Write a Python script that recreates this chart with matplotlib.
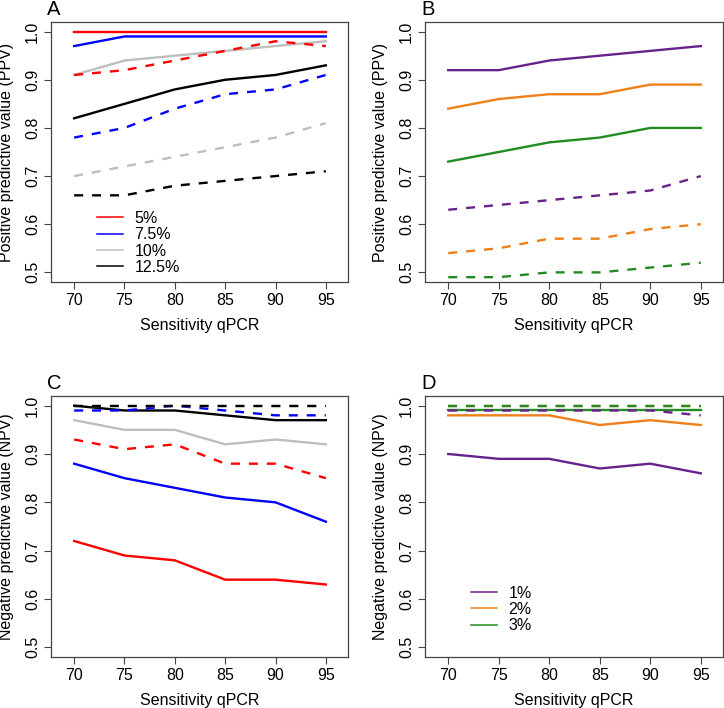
import matplotlib
matplotlib.use('Agg')
import matplotlib.pyplot as plt
from matplotlib.lines import Line2D

plt.rcParams['font.family'] = ['Liberation Sans', 'DejaVu Sans']

sens = [70, 75, 80, 85, 90, 95]

# panel A: PPV, prevalence 5 / 7.5 / 10 / 12.5 %
ppv_a_solid = {
    '5%':   [1.00, 1.00, 1.00, 1.00, 1.00, 1.00],
    '7.5%': [0.97, 0.99, 0.99, 0.99, 0.99, 0.99],
    '10%':  [0.91, 0.94, 0.95, 0.96, 0.97, 0.98],
    '12.5%': [0.82, 0.85, 0.88, 0.90, 0.91, 0.93],
}
ppv_a_dash = {
    '5%':   [0.91, 0.92, 0.94, 0.96, 0.98, 0.97],
    '7.5%': [0.78, 0.80, 0.84, 0.87, 0.88, 0.91],
    '10%':  [0.70, 0.72, 0.74, 0.76, 0.78, 0.81],
    '12.5%': [0.66, 0.66, 0.68, 0.69, 0.70, 0.71],
}
# panel C: NPV, same prevalences
npv_c_solid = {
    '5%':   [0.72, 0.69, 0.68, 0.64, 0.64, 0.63],
    '7.5%': [0.88, 0.85, 0.83, 0.81, 0.80, 0.76],
    '10%':  [0.97, 0.95, 0.95, 0.92, 0.93, 0.92],
    '12.5%': [1.00, 0.99, 0.99, 0.98, 0.97, 0.97],
}
npv_c_dash = {
    '5%':   [0.93, 0.91, 0.92, 0.88, 0.88, 0.85],
    '7.5%': [0.99, 0.99, 1.00, 0.99, 0.98, 0.98],
    '10%':  [1.00, 1.00, 1.00, 1.00, 1.00, 1.00],
    '12.5%': [1.00, 1.00, 1.00, 1.00, 1.00, 1.00],
}
# panel B: PPV, prevalence 1 / 2 / 3 %
ppv_b_solid = {
    '1%': [0.92, 0.92, 0.94, 0.95, 0.96, 0.97],
    '2%': [0.84, 0.86, 0.87, 0.87, 0.89, 0.89],
    '3%': [0.73, 0.75, 0.77, 0.78, 0.80, 0.80],
}
ppv_b_dash = {
    '1%': [0.63, 0.64, 0.65, 0.66, 0.67, 0.70],
    '2%': [0.54, 0.55, 0.57, 0.57, 0.59, 0.60],
    '3%': [0.49, 0.49, 0.50, 0.50, 0.51, 0.52],
}
# panel D: NPV, prevalence 1 / 2 / 3 %
npv_d_solid = {
    '1%': [0.90, 0.89, 0.89, 0.87, 0.88, 0.86],
    '2%': [0.98, 0.98, 0.98, 0.96, 0.97, 0.96],
    '3%': [0.99, 0.99, 0.99, 0.99, 0.99, 0.99],
}
npv_d_dash = {
    '1%': [0.99, 0.99, 0.99, 0.99, 0.99, 0.98],
    '2%': [1.00, 1.00, 1.00, 1.00, 1.00, 1.00],
    '3%': [1.00, 1.00, 1.00, 1.00, 1.00, 1.00],
}

cols_hi = {'5%': '#ff0000', '7.5%': '#0000ff', '10%': '#bebebe', '12.5%': '#000000'}
cols_lo = {'1%': '#68228b', '2%': '#ee7f1a', '3%': '#228b22'}

fig = plt.figure(figsize=(7.24, 7.08), dpi=100)
W, H = 724, 708

def add_ax(l, t, r, b):
    return fig.add_axes([l / W, 1 - b / H, (r - l) / W, (b - t) / H])

axA = add_ax(51, 22, 348, 282)
axB = add_ax(425, 22, 723, 282)
axC = add_ax(51, 396, 348, 657)
axD = add_ax(425, 396, 723, 657)

def draw(ax, solid, dash, cols, letter, ylab, legend=False):
    for k in solid:
        ax.plot(sens, solid[k], color=cols[k], lw=1.7)
    for k in dash:
        ax.plot(sens, dash[k], color=cols[k], lw=1.7, dashes=(3.8, 3.8))
    ax.set_xlim(67.7, 97.2)
    ax.set_ylim(0.48, 1.02)
    ax.set_xticks(sens)
    ax.set_yticks([0.5, 0.6, 0.7, 0.8, 0.9, 1.0])
    ax.set_yticklabels(['0.5', '0.6', '0.7', '0.8', '0.9', '1.0'])
    ax.tick_params(labelsize=11.5, length=5, width=0.8, color='#444444', pad=3)
    ax.tick_params(axis='y', labelrotation=90)
    for lab in ax.get_yticklabels():
        lab.set_va('center')
    for s in ax.spines.values():
        s.set_color('#444444')
        s.set_linewidth(0.9)
    ax.set_xlabel('Sensitivity qPCR', fontsize=11.5)
    ax.set_ylabel(ylab, fontsize=11.5)
    ax.xaxis.set_label_coords(0.5, -0.138)
    ax.yaxis.set_label_coords(-0.125, 0.5)
    ax.text(-0.012, 1.027, letter, transform=ax.transAxes, fontsize=14.5,
            ha='left', va='baseline')
    if legend:
        handles = [Line2D([], [], color=cols[k], lw=1.1) for k in solid]
        ax.legend(handles, list(solid), loc='upper left', bbox_to_anchor=(0.155, 0.273),
                  frameon=False, fontsize=11.5, borderpad=0, borderaxespad=0,
                  handlelength=1.6, handletextpad=0.75, labelspacing=0.08)

draw(axA, ppv_a_solid, ppv_a_dash, cols_hi, 'A', 'Positive predictive value (PPV)', legend=True)
draw(axB, ppv_b_solid, ppv_b_dash, cols_lo, 'B', 'Positive predictive value (PPV)')
draw(axC, npv_c_solid, npv_c_dash, cols_hi, 'C', 'Negative predictive value (NPV)')
draw(axD, npv_d_solid, npv_d_dash, cols_lo, 'D', 'Negative predictive value (NPV)', legend=True)

fig.savefig('out.png', dpi=100)
